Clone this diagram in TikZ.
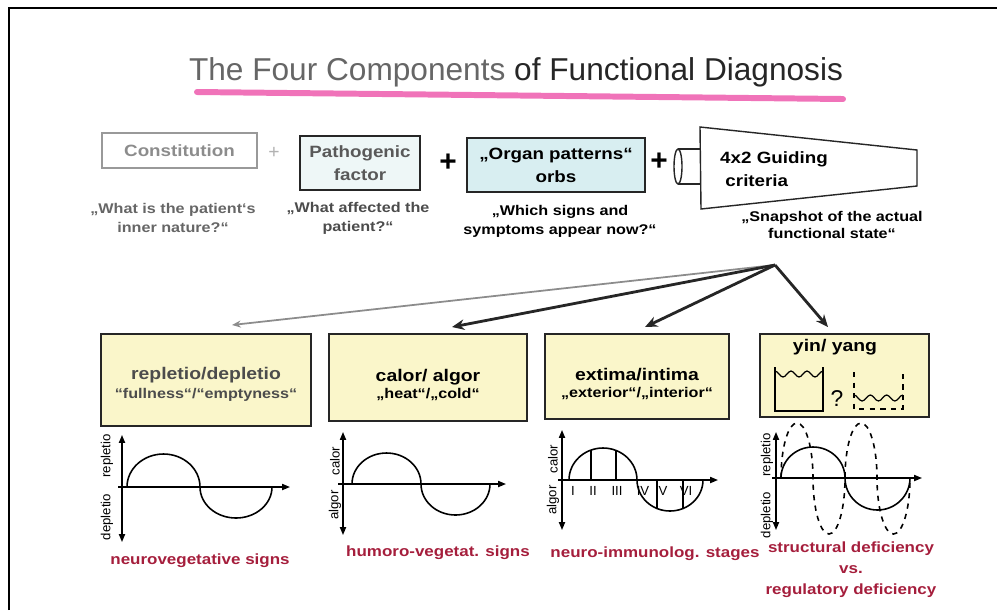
\documentclass[tikz,border=0pt]{standalone}
\usepackage{fontspec}
\setmainfont{Liberation Sans}
\newfontfamily\widesans[FakeStretch=1.15]{Liberation Sans}
\usepackage{xcolor}
\usepackage{tikz}
\usetikzlibrary{arrows.meta,positioning,calc}
\definecolor{crityellow}{RGB}{250,246,202}
\definecolor{organcyan}{RGB}{216,238,241}
\definecolor{pathcyan}{RGB}{238,247,247}
\definecolor{signred}{RGB}{165,30,60}
\definecolor{markpink}{RGB}{240,115,185}
\tikzset{
    fd frame/.style={line width=1.4pt, draw=black},
    fd title/.style={font=\fontsize{18}{20}\selectfont, text=black!85},
    fd mark/.style={line width=3.4pt, draw=markpink, line cap=round},
    fd box/.style={
        draw=black!85,
        line width=0.8pt,
        align=center,
        font=\widesans\bfseries\fontsize{9.3}{13}\selectfont,
        inner sep=2pt
    },
    fd crit/.style={fd box, fill=crityellow},
    fd head/.style={font=\widesans\bfseries\fontsize{9.6}{12}\selectfont, anchor=base},
    fd sub/.style={font=\widesans\bfseries\fontsize{8}{10}\selectfont, anchor=base},
    fd question/.style={font=\widesans\bfseries\fontsize{8}{10.8}\selectfont, align=center},
    fd plus/.style={font=\bfseries\fontsize{17}{17}\selectfont},
    fd outline/.style={line width=0.8pt, draw=black!85},
    fd arrow/.style={-{Stealth[length=7pt,width=6pt]}, line width=1.6pt, draw=black!85},
    fd faint arrow/.style={-{Stealth[length=5pt,width=4pt]}, line width=1pt, draw=black!45},
    fd yaxis/.style={{Triangle[length=4.5pt,width=3.5pt]}-{Triangle[length=4.5pt,width=3.5pt]}, line width=0.8pt},
    fd xaxis/.style={-{Triangle[length=4.5pt,width=3.5pt]}, line width=0.8pt},
    fd curve/.style={line width=0.9pt},
    fd axislabel/.style={font=\fontsize{7.5}{8}\selectfont, rotate=90},
    fd stage/.style={font=\fontsize{7.5}{8}\selectfont},
    fd sign/.style={font=\widesans\bfseries\fontsize{8.4}{11.9}\selectfont, text=signred, align=center}
}
\begin{document}
\begin{tikzpicture}[x=0.02cm, y=-0.02cm]
\useasboundingbox (0,0) rectangle (997,610);
\draw[fd frame] (9,610) -- (9,8) -- (997,8);

% title
\node[fd title] (title) at (516,72) {\textcolor{black!60}{The Four Components} of Functional Diagnosis};
\draw[fd mark] (197,92) -- (843,99);

% four components
\node[fd box, draw=black!40, text=black!45, minimum width=3.1cm, minimum height=0.7cm] (constitution) at (179.5,150.5) {Constitution};
\node[fd plus, text=black!30, font=\fontsize{11}{11}\selectfont] (plus1) at (274,153) {+};
\node[fd box, fill=pathcyan, text=black!65, minimum width=2.4cm, minimum height=1.08cm] (pathogen) at (360,163) {Pathogenic\\factor};
\node[fd plus] (plus2) at (448,163) {+};
\node[fd box, fill=organcyan, minimum width=3.56cm, minimum height=1.08cm] (organ) at (556,165) {„Organ patterns“\\orbs};
\node[fd plus] (plus3) at (659,162) {+};
\draw[fd outline] (678,149) -- (700,149) (678,184) -- (700,184);
\draw[fd outline, fill=white] (678,166.5) ellipse [x radius=4, y radius=17.5];
\draw[fd outline, fill=white] (700,127) -- (917,150) -- (917,186) -- (701,209) -- cycle;
\node[fd box, draw=none, align=left, anchor=west] (guide) at (716,169) {4x2 Guiding\\\hspace*{3pt}criteria};

\node[fd question, text=black!60] (q1) at (173,218) {„What is the patient‘s\\inner nature?“};
\node[fd question, text=black!70] (q2) at (358,218) {„What affected the\\patient?“};
\node[fd question] (q3) at (560,221) {„Which signs and\\symptoms appear now?“};
\node[fd question, font=\widesans\bfseries\fontsize{8}{9.4}\selectfont] (q4) at (832,225) {„Snapshot of the actual\\functional state“};

% guiding criteria fan out
\coordinate (hub) at (775,265);
\coordinate (to1) at (232,325);
\coordinate (to2) at (452,327);
\coordinate (to3) at (645,327);
\coordinate (to4) at (828,327);
\draw[fd faint arrow] (hub) -- (to1);
\draw[fd arrow] (hub) -- (to2);
\draw[fd arrow] (hub) -- (to3);
\draw[fd arrow] (hub) -- (to4);

% criteria boxes
\node[fd crit, minimum width=4.2cm, minimum height=1.84cm] (repl) at (206,380) {};
\node[fd head, text=black!70] (repltitle) at (206,379) {repletio/depletio};
\node[fd sub, text=black!70] (replsub) at (206,398) {“fullness“/“emptyness“};
\node[fd crit, minimum width=3.96cm, minimum height=1.74cm] (calor) at (428,377.5) {};
\node[fd head] (calortitle) at (428,381) {calor/ algor};
\node[fd sub] (calorsub) at (428,398) {„heat“/„cold“};
\node[fd crit, minimum width=3.68cm, minimum height=1.7cm] (extima) at (637,376.5) {};
\node[fd head] (extimatitle) at (637,380) {extima/intima};
\node[fd sub] (extimasub) at (637,397) {„exterior“/„interior“};
\node[fd crit, minimum width=3.38cm, minimum height=1.66cm] (yin) at (844.5,375.5) {};
\node[fd head] (yintitle) at (835,351) {yin/ yang};
\draw[fd curve] (775,367) -- (775,411) -- (823,411) -- (823,367);
\draw[line width=0.7pt] (775,371) \foreach \k in {1,2,3} {cos ++(4,3) sin ++(4,3) cos ++(4,-3) sin ++(4,-3)};
\node[font=\fontsize{13}{13}\selectfont] (ask) at (837,399) {?};
\draw[fd curve, dashed] (854,372) -- (854,409) -- (903,409) -- (903,372);
\draw[line width=0.7pt] (854,395) \foreach \k in {1,2,3} {cos ++(4.08,3) sin ++(4.08,3) cos ++(4.08,-3) sin ++(4.08,-3)};

% graph 1
\draw[fd yaxis] (122,435) -- (122,542);
\draw[fd xaxis] (118,487) -- (290,487);
\draw[fd curve] (127,487) arc[start angle=180, end angle=360, x radius=36.5, y radius=33]
    arc[start angle=180, end angle=0, x radius=36, y radius=31];
\node[fd axislabel] (g1up) at (107,456) {repletio};
\node[fd axislabel] (g1dn) at (107,517) {depletio};

% graph 2
\draw[fd yaxis] (343,432) -- (343,535);
\draw[fd xaxis] (338,484) -- (506,484);
\draw[fd curve] (352,484) arc[start angle=180, end angle=360, x radius=34.5, y radius=31]
    arc[start angle=180, end angle=0, x radius=34.5, y radius=31];
\node[fd axislabel] (g2up) at (335,461) {calor};
\node[fd axislabel] (g2dn) at (335,505) {algor};

% graph 3
\draw[fd yaxis] (562,430) -- (562,530);
\draw[fd xaxis] (558,480) -- (718,480);
\draw[fd curve] (569,480) arc[start angle=180, end angle=360, x radius=34, y radius=32]
    arc[start angle=180, end angle=0, x radius=33, y radius=31];
\draw[fd curve] (591,480) -- (591,450) (616,480) -- (616,450.5)
    (657,480) -- (657,509) (683,480) -- (683,509);
\foreach \x/\s [count=\i] in {573/I,593/II,617/III,643/IV,663/V,686/VI}
    \node[fd stage] (st\i) at (\x,491) {\s};
\node[fd axislabel] (g3up) at (553,459) {calor};
\node[fd axislabel] (g3dn) at (553,500) {algor};

% graph 4
\draw[fd yaxis] (776,432) -- (776,530);
\draw[fd xaxis] (772,478) -- (922,478);
\draw[fd curve] (781,478) arc[start angle=180, end angle=360, x radius=32, y radius=31]
    arc[start angle=180, end angle=0, x radius=32.5, y radius=32];
\draw[fd curve, dashed] (781,478) arc[start angle=180, end angle=360, x radius=16, y radius=55]
    arc[start angle=180, end angle=0, x radius=16, y radius=56]
    arc[start angle=180, end angle=360, x radius=16, y radius=55]
    arc[start angle=180, end angle=0, x radius=16.5, y radius=56];
\node[fd axislabel] (g4up) at (767,455) {repletio};
\node[fd axislabel] (g4dn) at (767,515) {depletio};

% what each criterion tells
\node[fd sign] (sign1) at (200,561) {neurovegetative signs};
\node[fd sign] (sign2) at (438,553) {humoro-vegetat. signs};
\node[fd sign] (sign3) at (655,554) {neuro-immunolog. stages};
\node[fd sign] (sign4) at (851,570) {structural deficiency\\vs.\\regulatory deficiency};
\end{tikzpicture}
\end{document}
